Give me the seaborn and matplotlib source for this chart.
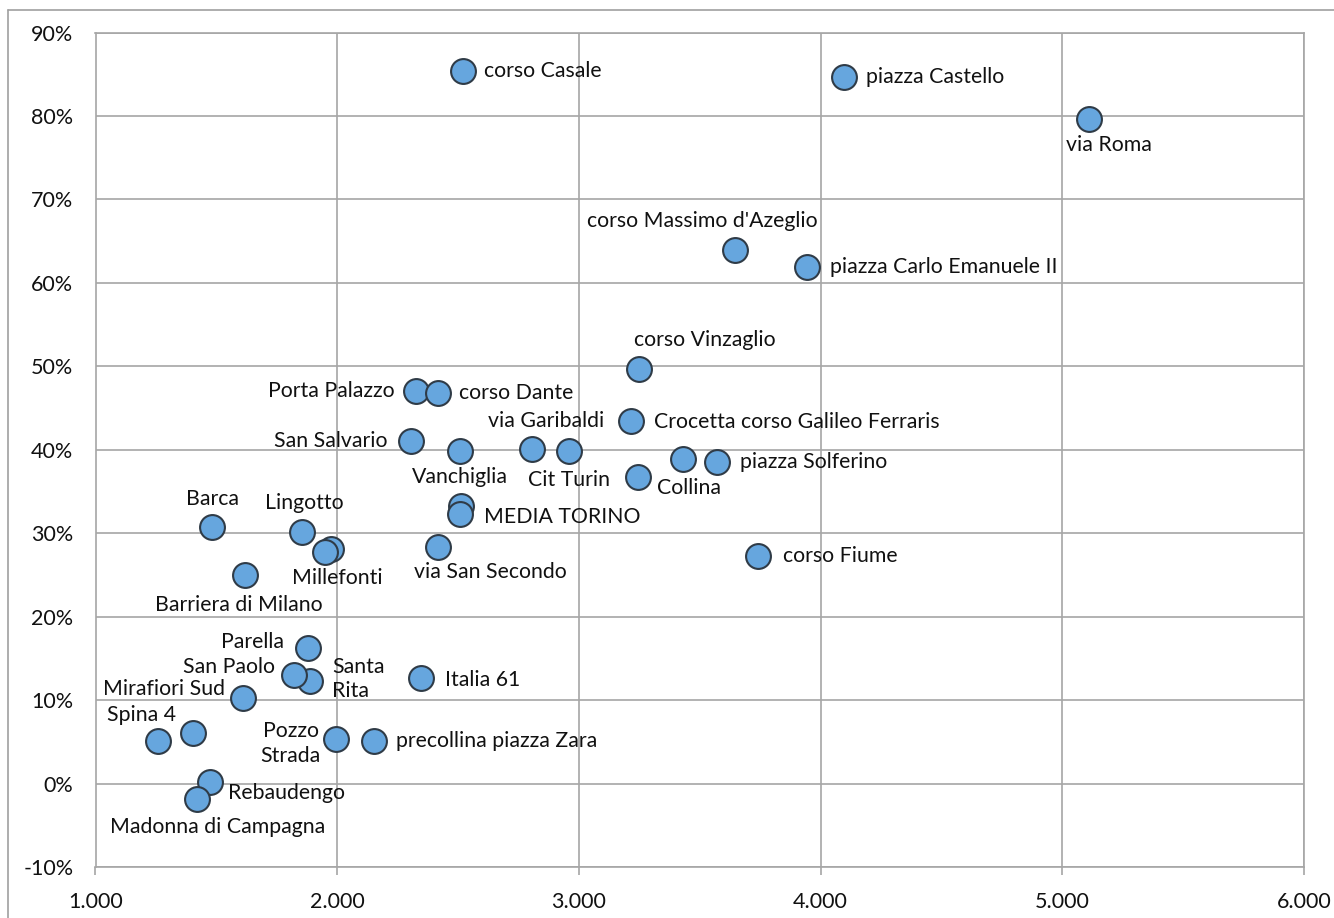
import matplotlib
matplotlib.use("Agg")
import matplotlib.pyplot as plt
import seaborn as sns
import pandas as pd
from matplotlib.lines import Line2D

# ---------------- data ----------------
names = [
    "corso Casale", "piazza Castello", "via Roma", "corso Massimo d'Azeglio",
    "piazza Carlo Emanuele II", "corso Vinzaglio", "Porta Palazzo", "corso Dante",
    "San Salvario", "Vanchiglia", "via Garibaldi", "Cit Turin",
    "Crocetta corso Galileo Ferraris", "", "piazza Solferino", "Collina",
    "", "MEDIA TORINO", "Lingotto", "Barca", "", "Millefonti",
    "via San Secondo", "Barriera di Milano", "corso Fiume", "Parella",
    "Santa\nRita", "San Paolo", "Italia 61", "Mirafiori Sud", "Spina 4", "",
    "Pozzo\nStrada", "precollina piazza Zara", "Rebaudengo", "Madonna di Campagna",
]
x_vals = [
    2522, 4097, 5109, 3646,
    3945, 3250, 2328, 2418,
    2306, 2506, 2805, 2959,
    3215, 3429, 3572, 3243,
    2513, 2506, 1855, 1484, 1976, 1951,
    2418, 1620, 3740, 1878,
    1889, 1823, 2348, 1610, 1258, 1403,
    1994, 2154, 1474, 1419,
]
y_vals = [
    85.4, 84.7, 79.6, 63.9,
    61.9, 49.7, 47.0, 46.8,
    41.1, 39.9, 40.1, 39.9,
    43.4, 38.9, 38.5, 36.7,
    33.3, 32.3, 30.1, 30.7, 28.1, 27.7,
    28.3, 25.0, 27.3, 16.2,
    12.3, 13.0, 12.6, 10.3, 5.1, 6.1,
    5.3, 5.1, 0.2, -1.8,
]
x_ticks = [1000, 2000, 3000, 4000, 5000, 6000]
y_ticks = [-10, 0, 10, 20, 30, 40, 50, 60, 70, 80, 90]

# label placement (pixel offsets: dx right, dy down, horizontal alignment)
label_pos = [
    (21, 0, "left"), (22, 0, "left"), (20, 26, "center"), (-33, -29, "center"),
    (23, 0, "left"), (65, -29, "center"), (-22, 0, "right"), (21, 0, "left"),
    (-24, 0, "right"), (0, 26, "center"), (14, -28, "center"), (0, 29, "center"),
    (23, 1, "left"), None, (23, 0, "left"), (19, 11, "left"),
    None, (24, 3, "left"), (2, -29, "center"), (0, -28, "center"), None, (12, 26, "center"),
    (52, 25, "center"), (-7, 30, "center"), (25, 0, "left"), (-24, -6, "right"),
    (22, -2, "left"), (-19, -8, "right"), (24, 2, "left"), (-18, -9, "right"),
    (-16, -26, "center"), None,
    (-15, 4, "right"), (22, 0, "left"), (18, 11, "left"), (21, 28, "center"),
]

df = pd.DataFrame({"name": names, "x": x_vals, "y": y_vals})

# ---------------- style ----------------
sns.set_theme(style="white")
plt.rcParams["font.family"] = ["Lato", "DejaVu Sans"]

GRID = "#A6A6A6"
W, H = 1334, 918
fig = plt.figure(figsize=(W / 100, H / 100), dpi=100)
ax = fig.add_axes([95.5 / W, 1 - 867 / H, (1304 - 95.5) / W, (867 - 32.6) / H])

sns.scatterplot(data=df, x="x", y="y", ax=ax, s=320, color="#66A6DE",
                edgecolor="#2F3B47", linewidth=1.5, zorder=3, legend=False)

for name, xv, yv, pos in zip(names, x_vals, y_vals, label_pos):
    if pos is None or not name:
        continue
    dx, dy, ha = pos
    ax.annotate(name, (xv, yv), xytext=(dx, -dy), textcoords="offset pixels",
                ha=ha, va="center", multialignment="center" if ha == "right" else "left",
                fontsize=15.3, color="#111111", zorder=4, linespacing=1.3)

ax.set_xlim(1000, 6000)
ax.set_ylim(-10, 90)
ax.set_xticks(x_ticks)
ax.set_yticks(y_ticks)
ax.set_xticklabels([f"{v:,}".replace(",", ".") for v in x_ticks])
ax.set_yticklabels([f"{v}%" for v in y_ticks])
ax.grid(True, color=GRID, linewidth=1.2)
ax.set_axisbelow(True)
for sp in ax.spines.values():
    sp.set_color(GRID)
    sp.set_linewidth(1.2)
ax.tick_params(axis="both", which="both", width=1.2, color=GRID,
               labelsize=15.5, labelcolor="#111111", direction="out")
ax.tick_params(axis="x", length=6, pad=12, bottom=True)
ax.tick_params(axis="y", length=0, pad=16, left=False)
ax.set_xlabel("")
ax.set_ylabel("")

# outer chart border (top and left visible)
fig.add_artist(Line2D([8 / W, 1], [1 - 10 / H, 1 - 10 / H], color="#A0A0A0", lw=1.2,
                      transform=fig.transFigure))
fig.add_artist(Line2D([8 / W, 8 / W], [0, 1 - 10 / H], color="#A0A0A0", lw=1.2,
                      transform=fig.transFigure))

fig.savefig("out.png", dpi=100)
